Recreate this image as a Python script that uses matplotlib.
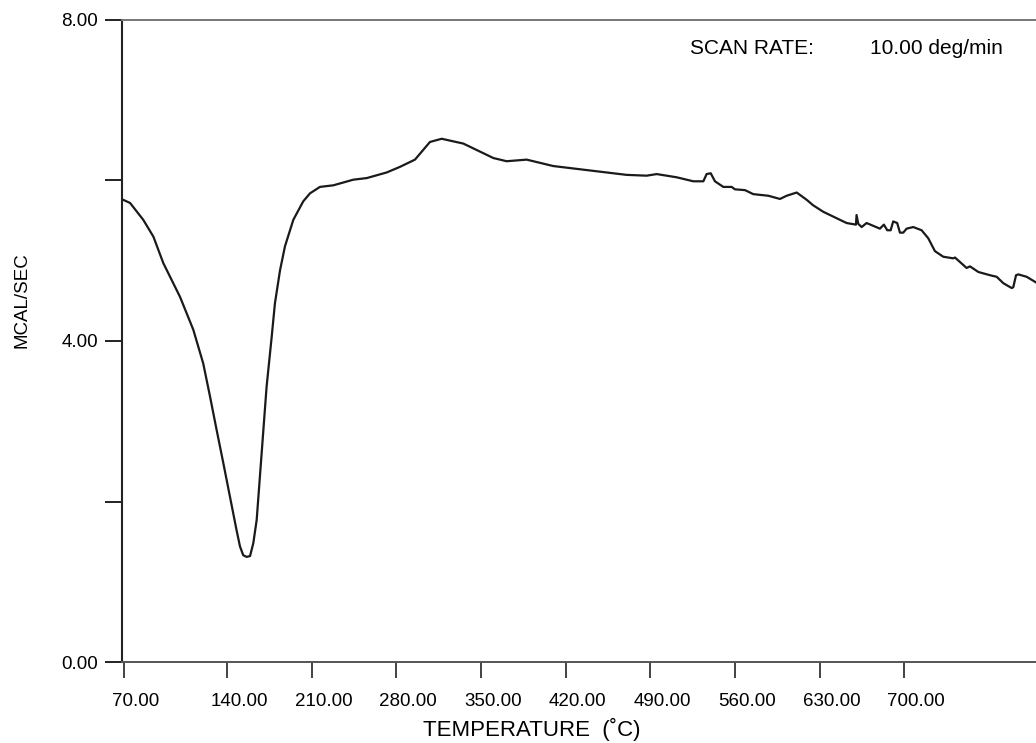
import matplotlib
matplotlib.use("Agg")
import matplotlib.pyplot as plt
import matplotlib.transforms as mtransforms

plt.rcParams['font.family'] = ['Liberation Sans', 'DejaVu Sans']

# DSC trace
temp = [54.0, 59.8, 70.7, 79.1, 87.3, 101.1, 112.1, 120.3, 125.9, 131.4,
        136.9, 142.4, 147.9, 150.7, 153.4, 156.2, 159.0, 161.7, 164.5, 168.6,
        172.7, 176.9, 179.6, 183.8, 187.9, 194.8, 203.0, 208.6, 216.8, 227.9,
        244.4, 255.5, 272.0, 283.0, 295.4, 307.8, 317.5, 335.4, 349.2, 360.2,
        371.2, 379.5, 387.8, 393.3, 409.8, 426.3, 448.4, 470.5, 487.0, 495.3,
        511.8, 525.6, 533.9, 536.6, 540.0, 543.5, 550.4, 557.3, 560.0, 568.3,
        575.2, 587.6, 597.3, 602.8, 611.1, 619.3, 624.8, 633.1, 644.1, 652.4,
        660.1, 660.6, 662.0, 664.8, 668.9, 679.9, 683.2, 686.0, 688.8, 690.9,
        694.2, 696.5, 699.2, 702.0, 707.5, 714.4, 719.9, 725.4, 732.3, 740.6,
        742.0, 751.6, 754.4, 761.3, 770.9, 776.5, 782.0, 788.9, 790.2, 792.5,
        794.4, 801.3, 809.0]
heat = [5.76, 5.72, 5.51, 5.30, 4.97, 4.55, 4.14, 3.72, 3.31, 2.89,
        2.48, 2.06, 1.64, 1.44, 1.33, 1.31, 1.32, 1.48, 1.77, 2.60,
        3.43, 4.05, 4.47, 4.88, 5.18, 5.51, 5.74, 5.84, 5.92, 5.94,
        6.01, 6.03, 6.10, 6.17, 6.26, 6.48, 6.52, 6.46, 6.36, 6.28,
        6.24, 6.25, 6.26, 6.24, 6.18, 6.15, 6.11, 6.07, 6.06, 6.08,
        6.04, 5.99, 5.99, 6.08, 6.09, 5.99, 5.92, 5.92, 5.89, 5.88,
        5.83, 5.81, 5.77, 5.81, 5.85, 5.76, 5.69, 5.61, 5.53, 5.47,
        5.45, 5.57, 5.46, 5.42, 5.47, 5.40, 5.45, 5.38, 5.38, 5.49,
        5.47, 5.35, 5.35, 5.40, 5.42, 5.38, 5.28, 5.12, 5.05, 5.03,
        5.04, 4.91, 4.93, 4.86, 4.82, 4.80, 4.72, 4.66, 4.67, 4.82,
        4.83, 4.80, 4.73]

# ticks (first tick sits on the axis start but is labelled 70.00)
x_ticks = [54.8, 140, 210, 280, 350, 420, 490, 560, 630, 700]
x_labels = ["70.00", "140.00", "210.00", "280.00", "350.00", "420.00",
            "490.00", "560.00", "630.00", "700.00"]
y_ticks = [0, 2, 4, 6, 8]
y_labels = ["0.00", "", "4.00", "", "8.00"]

fig = plt.figure(figsize=(10.36, 7.43), dpi=100)
ax = fig.add_axes([0.1175, 0.109, 0.8825, 0.8641])

ax.plot(temp, heat, color="#1a1a1a", linewidth=1.6)

ax.set_xlim(52.9, 809)
ax.set_ylim(0, 8)

ax.set_xticks(x_ticks)
ax.set_xticklabels(x_labels)
ax.set_yticks(y_ticks)
ax.set_yticklabels(y_labels)

ax.tick_params(axis='x', direction='out', length=11.5, width=1.2, pad=11,
               labelsize=13.5, color='#222222')
ax.tick_params(axis='y', direction='out', length=12, width=1.4, pad=5,
               labelsize=13.5, color='#222222')

# labels sit a little to the right of their ticks on the original
shift = mtransforms.ScaledTranslation(12 / 100, 0, fig.dpi_scale_trans)
for lab in ax.get_xticklabels():
    lab.set_transform(lab.get_transform() + shift)

ax.spines['right'].set_visible(False)
ax.spines['top'].set_color('#777777')
ax.spines['top'].set_linewidth(1.4)
ax.spines['left'].set_color('#222222')
ax.spines['left'].set_linewidth(1.5)
ax.spines['bottom'].set_color('#555555')
ax.spines['bottom'].set_linewidth(1.4)

fig.text(22 / 1036, 1 - 300 / 743, "MCAL/SEC", rotation=90,
         ha='center', va='center', fontsize=13.5)
fig.text(532 / 1036, 1 - 729 / 743, "TEMPERATURE  (\u02daC)",
         ha='center', va='center', fontsize=16)

fig.text(690 / 1036, 1 - 48 / 743, "SCAN RATE:", ha='left', va='center',
         fontsize=15)
fig.text(870 / 1036, 1 - 48 / 743, "10.00 deg/min", ha='left', va='center',
         fontsize=15)

fig.savefig("out.png", dpi=100)
